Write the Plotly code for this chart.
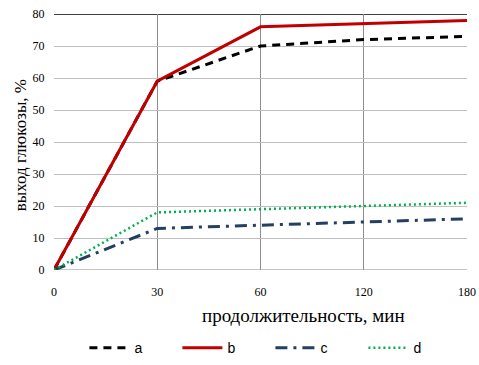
import plotly.graph_objects as go

categories = ["0", "30", "60", "120", "180"]
series_a = [0, 59, 70, 72, 73]
series_b = [0, 59, 76, 77, 78]
series_c = [0, 13, 14, 15, 16]
series_d = [0, 18, 19, 20, 21]
y_ticks = [0, 10, 20, 30, 40, 50, 60, 70, 80]
x_title = "продолжительность, мин"
y_title = "выход глюкозы, %"

fig = go.Figure()
fig.add_trace(go.Scatter(x=categories, y=series_a, name="a", mode="lines",
                         line=dict(color="#000000", width=3, dash="8px,6px")))
fig.add_trace(go.Scatter(x=categories, y=series_b, name="b", mode="lines",
                         line=dict(color="#C00000", width=3)))
fig.add_trace(go.Scatter(x=categories, y=series_c, name="c", mode="lines",
                         line=dict(color="#243F60", width=3, dash="12px,6px,3px,6px")))
fig.add_trace(go.Scatter(x=categories, y=series_d, name="d", mode="lines",
                         line=dict(color="#00B050", width=2.5, dash="2px,3px")))

serif = "Liberation Serif, Times New Roman, serif"
fig.update_layout(
    width=479, height=365,
    margin=dict(l=54, r=12, t=14, b=95, autoexpand=False),
    plot_bgcolor="white", paper_bgcolor="white",
    xaxis=dict(type="category", range=[0, 4], showgrid=True, gridcolor="#8C8C8C",
               gridwidth=1, zeroline=False, showline=False, automargin=False,
               tickfont=dict(family=serif, size=12, color="#000"), ticks="",
               ticklabelstandoff=13, ticklabeloverflow="allow"),
    yaxis=dict(range=[0, 80], tickvals=y_ticks, showgrid=True, gridcolor="#BFBFBF",
               zeroline=False, showline=False, automargin=False,
               ticks="outside", ticklen=6, tickcolor="rgba(0,0,0,0)",
               tickfont=dict(family=serif, size=12, color="#000"),
               ticklabeloverflow="allow"),
    legend=dict(orientation="h", x=0.524, xanchor="center", y=-0.305, yanchor="middle",
                font=dict(family="Liberation Sans, Arial, sans-serif", size=14, color="#000"),
                itemwidth=40, entrywidth=38, entrywidthmode="pixels", traceorder="normal"),
    showlegend=True,
)
fig.add_annotation(text=x_title, xref="paper", yref="paper", x=0.605, y=-0.176,
                   xanchor="center", yanchor="middle", showarrow=False,
                   font=dict(family=serif, size=19, color="#000"))
fig.add_annotation(text=y_title, xref="paper", yref="paper", x=-0.082, y=0.488,
                   xanchor="center", yanchor="middle", showarrow=False, textangle=-90,
                   font=dict(family=serif, size=17, color="#000"))
fig.add_shape(type="line", xref="paper", yref="y", x0=0, x1=1, y0=80, y1=80,
              line=dict(color="#000", width=1.5), layer="below")
fig.add_shape(type="line", xref="paper", yref="y", x0=0, x1=1, y0=0, y1=0,
              line=dict(color="#8C8C8C", width=1), layer="below")
fig.write_html("out.html", config={"displayModeBar": False},
               post_script="document.body.style.margin='0';")
